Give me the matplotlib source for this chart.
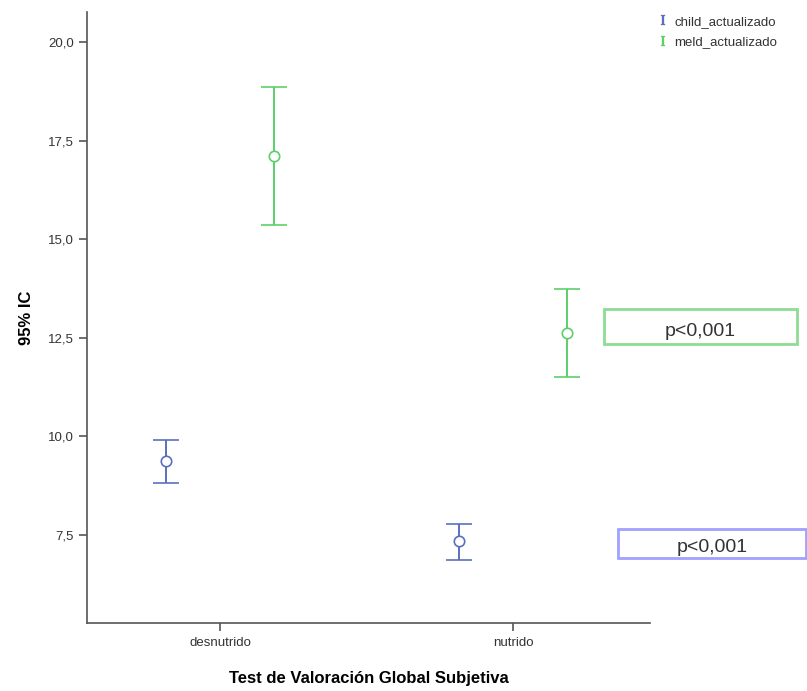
import matplotlib
matplotlib.use("Agg")
import matplotlib.pyplot as plt
from matplotlib.patches import Rectangle
from matplotlib.lines import Line2D
from matplotlib.ticker import FuncFormatter

plt.rcParams['font.family'] = ['Liberation Sans', 'DejaVu Sans']
plt.rcParams['mathtext.fontset'] = 'dejavuserif'

# data (mean and 95% CI)
groups = ['desnutrido', 'nutrido']
series = ['child_actualizado', 'meld_actualizado']
child_mean = [9.37, 7.35]
child_low = [8.83, 6.86]
child_high = [9.92, 7.79]
meld_mean = [17.12, 12.62]
meld_low = [15.35, 11.50]
meld_high = [18.87, 13.75]
p_labels = ['p<0,001', 'p<0,001']

blue = '#5b6fc0'
green = '#5ccf6a'

fig = plt.figure(figsize=(8.07, 6.91), dpi=100)
W, H = 807, 691
ax = fig.add_axes([87 / W, 1 - 623 / H, (650 - 87) / W, (623 - 12) / H])

x = list(range(len(groups)))
off = 0.184
for means, lows, highs, col, d in [
        (child_mean, child_low, child_high, blue, -off),
        (meld_mean, meld_low, meld_high, green, off)]:
    xs = [i + d for i in x]
    err = [[m - l for m, l in zip(means, lows)], [h - m for m, h in zip(means, highs)]]
    ax.errorbar(xs, means, yerr=err, fmt='o', mfc='white', mec=col, ecolor=col,
                ms=7.5, mew=1.2, elinewidth=1.4, capsize=9.7, capthick=1.4)

ax.set_xlim(-0.454, 1.468)
ax.set_ylim(5.27, 20.76)
ax.set_yticks([7.5, 10, 12.5, 15, 17.5, 20])
ax.yaxis.set_major_formatter(FuncFormatter(lambda v, p: f'{v:.1f}'.replace('.', ',')))
ax.set_xticks(x)
ax.set_xticklabels(groups)
for s in ['top', 'right']:
    ax.spines[s].set_visible(False)
for s in ['left', 'bottom']:
    ax.spines[s].set_color('#555555')
    ax.spines[s].set_linewidth(1.2)
ax.tick_params(axis='both', labelsize=9.5, color='#555555', length=6, width=1.2, labelcolor='#333333')
ax.tick_params(axis='x', pad=4)
ax.set_ylabel('95% IC', fontsize=12, fontweight='bold', labelpad=10)
ax.set_xlabel('Test de Valoración Global Subjetiva', fontsize=12, fontweight='bold', labelpad=16)

handles = [Line2D([], [], ls='none', marker=r'$\mathrm{I}$', color=c, ms=7, mew=0.2) for c in (blue, green)]
fig.legend(handles, series, loc='upper left', bbox_to_anchor=(645 / W, 1 - 4 / H), frameon=False,
           fontsize=9.5, handlelength=1.0, handletextpad=0.3, labelspacing=0.6,
           labelcolor='#333333')

# p-value boxes (figure pixel coords)
boxes = [((604, 309, 797, 344), '#8fdc95', 331), ((618, 529, 806, 558), '#a0a0ff', 547)]
for ((x0, y0, x1, y1), ec, ty), txt in zip(boxes, p_labels):
    fig.add_artist(Rectangle((x0 / W, 1 - y1 / H), (x1 - x0) / W, (y1 - y0) / H,
                             transform=fig.transFigure, fill=False, ec=ec, lw=2))
    fig.text((x0 + x1) / 2 / W, 1 - ty / H, txt, ha='center', va='center',
             fontsize=14, color='#333333')

fig.savefig('out.png', dpi=100)
